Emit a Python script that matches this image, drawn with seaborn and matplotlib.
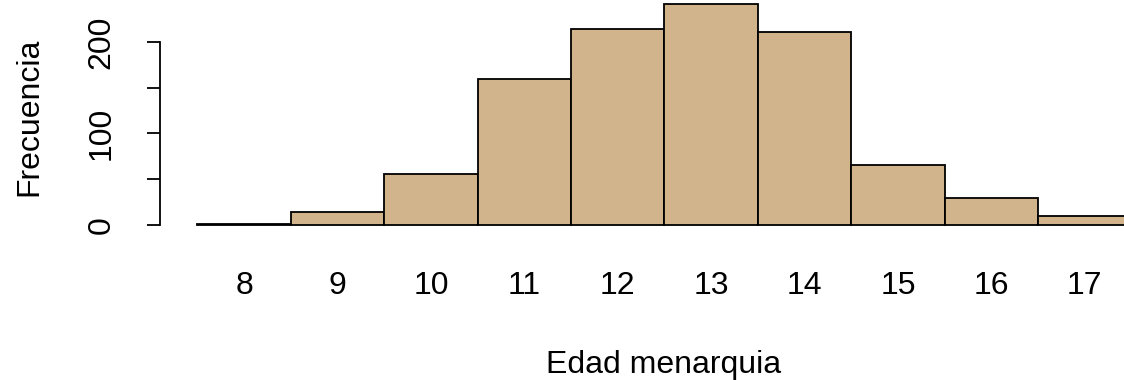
import numpy as np
import pandas as pd
import matplotlib
matplotlib.use("Agg")
import matplotlib.pyplot as plt
import seaborn as sns

edades = [8, 9, 10, 11, 12, 13, 14, 15, 16, 17]
frecuencias = [1, 14, 56, 160, 214, 242, 211, 66, 30, 10]
yticks = [0, 50, 100, 150, 200]
ytick_labels = ["0", "", "100", "", "200"]

df = pd.DataFrame({"edad": edades, "n": frecuencias})

sns.set_style("white")
plt.rcParams["font.family"] = ["Liberation Sans", "DejaVu Sans"]
plt.rcParams["text.color"] = "black"
plt.rcParams["axes.labelcolor"] = "black"
plt.rcParams["xtick.color"] = "black"
plt.rcParams["ytick.color"] = "black"

fig = plt.figure(figsize=(11.24, 3.8), dpi=100)
ax = fig.add_axes([160 / 1124, (380 - 234) / 380, 964 / 1124, 234 / 380])

sns.histplot(data=df, x="edad", weights="n", discrete=True, color="#D2B48C",
             edgecolor="black", linewidth=1.3, alpha=1, ax=ax)

ax.set_xlim(7.1, 17.42)
ax.set_ylim(-9.84, 245.9)

for s in ["top", "right", "bottom"]:
    ax.spines[s].set_visible(False)
ax.spines["left"].set_bounds(0, 200)
ax.spines["left"].set_linewidth(1.3)
ax.spines["left"].set_color("black")

ax.set_yticks(yticks)
ax.set_yticklabels(ytick_labels)
ax.tick_params(axis="y", length=9.4, width=1.3, pad=22, labelsize=23, left=True)
for lab in ax.get_yticklabels():
    lab.set_rotation(90)
    lab.set_va("center")
    lab.set_ha("right")

ax.set_xticks(edades)
ax.tick_params(axis="x", length=0, pad=27, labelsize=23)

# el panel original sigue mas alla del borde derecho: etiqueta algo desplazada
ax.set_xlabel("Edad menarquia", fontsize=23, labelpad=35)
ax.xaxis.label.set_x(0.5228)
ax.set_ylabel("Frecuencia", fontsize=23, labelpad=30)

fig.savefig("out.png", dpi=100)
